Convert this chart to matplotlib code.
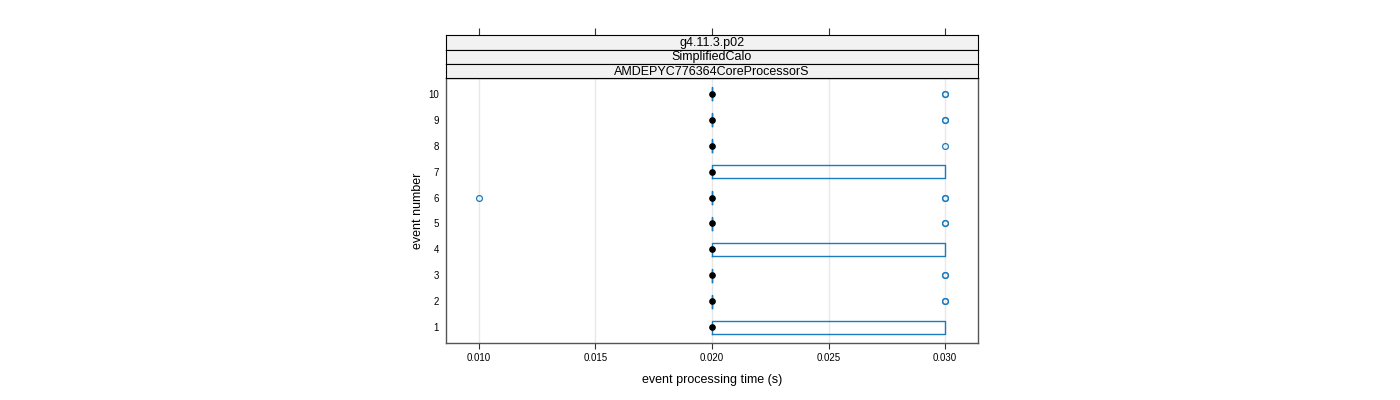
import matplotlib
matplotlib.use("Agg")
import matplotlib.pyplot as plt

plt.rcParams['font.family'] = ['Liberation Sans', 'DejaVu Sans']

# ---- data ----
events = [1, 2, 3, 4, 5, 6, 7, 8, 9, 10]
medians = [0.020] * 10
q1 = [0.020] * 10
q3 = [0.030, 0.020, 0.020, 0.030, 0.020, 0.020, 0.030, 0.020, 0.020, 0.020]
whislo = [0.020] * 10
whishi = [0.030, 0.020, 0.020, 0.030, 0.020, 0.020, 0.030, 0.020, 0.020, 0.020]
fliers = [[], [0.030, 0.030], [0.030, 0.030], [], [0.030, 0.030],
          [0.010, 0.030, 0.030], [], [0.030], [0.030, 0.030], [0.030, 0.030]]
xticks = [0.010, 0.015, 0.020, 0.025, 0.030]
xticklabels = ["0.010", "0.015", "0.020", "0.025", "0.030"]
strip_labels = ["g4.11.3.p02", "SimplifiedCalo", "AMDEPYC776364CoreProcessorS"]
xlabel = "event processing time (s)"
ylabel = "event number"

blue = '#1a7bbf'
W, H = 1400, 400
fig = plt.figure(figsize=(14, 4), dpi=100)

L, R = 446, 978
ptop, pbot = 78, 343
ax = fig.add_axes([L / W, 1 - pbot / H, (R - L) / W, (pbot - ptop) / H])

stats = []
for i in range(len(events)):
    stats.append(dict(med=medians[i], q1=q1[i], q3=q3[i], whislo=whislo[i],
                      whishi=whishi[i], fliers=fliers[i]))

ax.bxp(stats, positions=events, widths=0.5, orientation='horizontal',
       showcaps=False, patch_artist=False,
       boxprops=dict(color=blue, linewidth=1.0),
       whiskerprops=dict(color=blue, linewidth=1.0, linestyle='--'),
       medianprops=dict(visible=False),
       flierprops=dict(marker='o', markersize=4.2, markerfacecolor='none',
                       markeredgecolor=blue, markeredgewidth=0.9),
       zorder=3)
ax.plot(medians, events, 'o', color='black', markersize=3.8, zorder=4)

ax.set_xlim(0.008584, 0.031416)
ax.set_ylim(0.4, 10.6)
for xt in xticks:
    ax.axvline(xt, color='#e8e8e8', linewidth=1.0, zorder=0)
ax.set_xticks(xticks)
ax.set_xticklabels(xticklabels, fontsize=7)
ax.set_yticks(events)
ax.set_yticklabels([str(e) for e in events], fontsize=7)
ax.tick_params(axis='x', direction='out', length=4, width=0.8, color='#333333', pad=3)
ax.tick_params(axis='y', length=0, pad=5)
for s in ax.spines.values():
    s.set_color('#555555')
    s.set_linewidth(1.0)
ax.set_xlabel(xlabel, fontsize=9, labelpad=8)
ax.set_ylabel(ylabel, fontsize=9, labelpad=3)

# strips
edges = [35, 49.5, 64, 78]
for k, lab in enumerate(strip_labels):
    t, b = edges[k], edges[k + 1]
    sax = fig.add_axes([L / W, 1 - b / H, (R - L) / W, (b - t) / H], sharex=ax)
    sax.set_facecolor('#f2f2f2')
    sax.set_yticks([])
    for s in sax.spines.values():
        s.set_color('black')
        s.set_linewidth(0.8)
    if k == 0:
        sax.xaxis.tick_top()
        sax.tick_params(axis='x', which='both', direction='out', length=5,
                        width=0.8, color='#333333', labeltop=False, labelbottom=False)
    else:
        sax.tick_params(axis='x', which='both', length=0, labeltop=False,
                        labelbottom=False, top=False, bottom=False)
    sax.text(0.5, 0.45, lab, transform=sax.transAxes, ha='center', va='center',
             fontsize=9)

fig.savefig("out.png", dpi=100)
